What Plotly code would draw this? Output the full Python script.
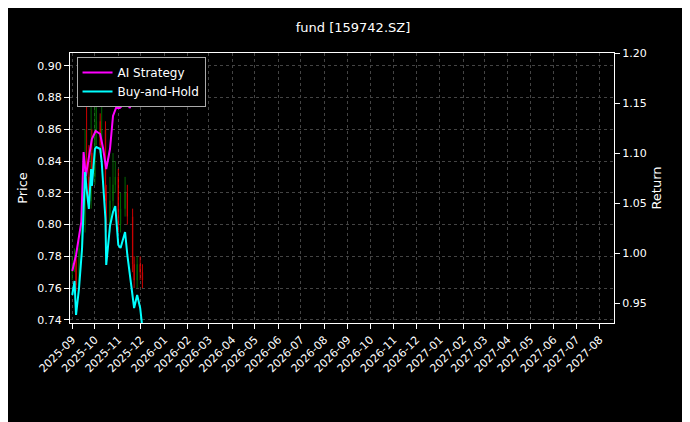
import plotly.graph_objects as go

bh_dates = ["2025-09-01","2025-09-04","2025-09-06","2025-09-10","2025-09-14","2025-09-18","2025-09-20","2025-09-23","2025-09-26","2025-09-27","2025-10-01","2025-10-03","2025-10-08","2025-10-10","2025-10-15","2025-10-16","2025-10-21","2025-10-25","2025-10-28","2025-11-01","2025-11-04","2025-11-10","2025-11-13","2025-11-20","2025-11-22","2025-11-26","2025-11-30","2025-12-03"]
bh_ret = [0.958,0.972,0.938,0.965,1.005,1.081,1.064,1.044,1.084,1.067,1.104,1.106,1.104,1.091,1.034,0.988,1.027,1.041,1.047,1.008,1.005,1.021,0.998,0.958,0.945,0.958,0.945,0.925]
ai_dates = ["2025-09-01","2025-09-06","2025-09-13","2025-09-16","2025-09-19","2025-09-23","2025-09-27","2025-10-02","2025-10-08","2025-10-12","2025-10-16","2025-10-21","2025-10-25","2025-10-29","2025-11-03","2025-11-07","2025-11-11","2025-11-16","2025-11-20","2025-11-26","2025-11-30"]
ai_ret = [0.982,0.998,1.031,1.101,1.077,1.094,1.114,1.122,1.119,1.104,1.084,1.104,1.137,1.145,1.145,1.148,1.156,1.145,1.153,1.163,1.176]
px_close = [0.775,0.778,0.762,0.785,0.800,0.840,0.830,0.815,0.845,0.830,0.860,0.865,0.850,0.860,0.820,0.800,0.815,0.825,0.830,0.800,0.810,0.820,0.805,0.775,0.765,0.775,0.770,0.765]
px_open = [0.770,0.775,0.778,0.762,0.785,0.800,0.840,0.830,0.815,0.845,0.830,0.860,0.865,0.850,0.860,0.820,0.800,0.815,0.825,0.830,0.800,0.810,0.820,0.805,0.775,0.765,0.775,0.770]
px_high = [0.780,0.785,0.780,0.790,0.815,0.860,0.875,0.850,0.880,0.860,0.885,0.880,0.870,0.875,0.865,0.825,0.830,0.845,0.840,0.835,0.820,0.830,0.825,0.810,0.780,0.780,0.780,0.775]
px_low = [0.765,0.770,0.758,0.760,0.780,0.795,0.825,0.810,0.810,0.825,0.825,0.850,0.845,0.845,0.815,0.795,0.795,0.810,0.820,0.795,0.795,0.805,0.800,0.770,0.760,0.760,0.765,0.760]
month_ticks = ["2025-09","2025-10","2025-11","2025-12","2026-01","2026-02","2026-03","2026-04","2026-05","2026-06","2026-07","2026-08","2026-09","2026-10","2026-11","2026-12","2027-01","2027-02","2027-03","2027-04","2027-05","2027-06","2027-07","2027-08"]

fig = go.Figure()
fig.add_trace(go.Candlestick(x=bh_dates, open=px_open, high=px_high, low=px_low, close=px_close,
    increasing=dict(line=dict(color="green", width=1), fillcolor="green"),
    decreasing=dict(line=dict(color="red", width=1), fillcolor="red"),
    whiskerwidth=0, showlegend=False, opacity=0.8))
fig.add_trace(go.Scatter(x=ai_dates, y=ai_ret, mode="lines", name="AI Strategy",
    line=dict(color="#ff00ff", width=2), yaxis="y2"))
fig.add_trace(go.Scatter(x=bh_dates, y=bh_ret, mode="lines", name="Buy-and-Hold",
    line=dict(color="#00ffff", width=2), yaxis="y2"))

grid = dict(showgrid=True, gridcolor="#444", griddash="3px,3px", gridwidth=0.6)
fig.update_layout(
    width=690, height=422, paper_bgcolor="black", plot_bgcolor="black",
    font=dict(family="DejaVu Sans", color="white", size=11),
    title=dict(text="fund [159742.SZ]", x=0.5, y=0.965, xanchor="center", font=dict(size=13)),
    margin=dict(l=62, r=84, t=45, b=107),
    xaxis=dict(type="date", range=["2025-08-29", "2027-08-20"], rangeslider=dict(visible=False),
        tickvals=[m + "-01" for m in month_ticks], ticktext=month_ticks, tickangle=-45,
        showline=True, linecolor="white", mirror=True, ticks="outside", tickcolor="white", **grid),
    yaxis=dict(title=dict(text="Price", standoff=6), range=[0.738, 0.908], dtick=0.02, tickformat=".2f",
        showline=True, linecolor="white", ticks="outside", tickcolor="white", zeroline=False, **grid),
    yaxis2=dict(title=dict(text="Return", standoff=6), overlaying="y", side="right", range=[0.93, 1.2], dtick=0.05, tickformat=".2f",
        showline=True, linecolor="white", ticks="outside", tickcolor="white", showgrid=False, zeroline=False),
    legend=dict(x=0.012, y=0.985, xanchor="left", yanchor="top", bgcolor="black",
        bordercolor="#aaa", borderwidth=1, font=dict(size=12)),
)
fig.write_html("out.html")
